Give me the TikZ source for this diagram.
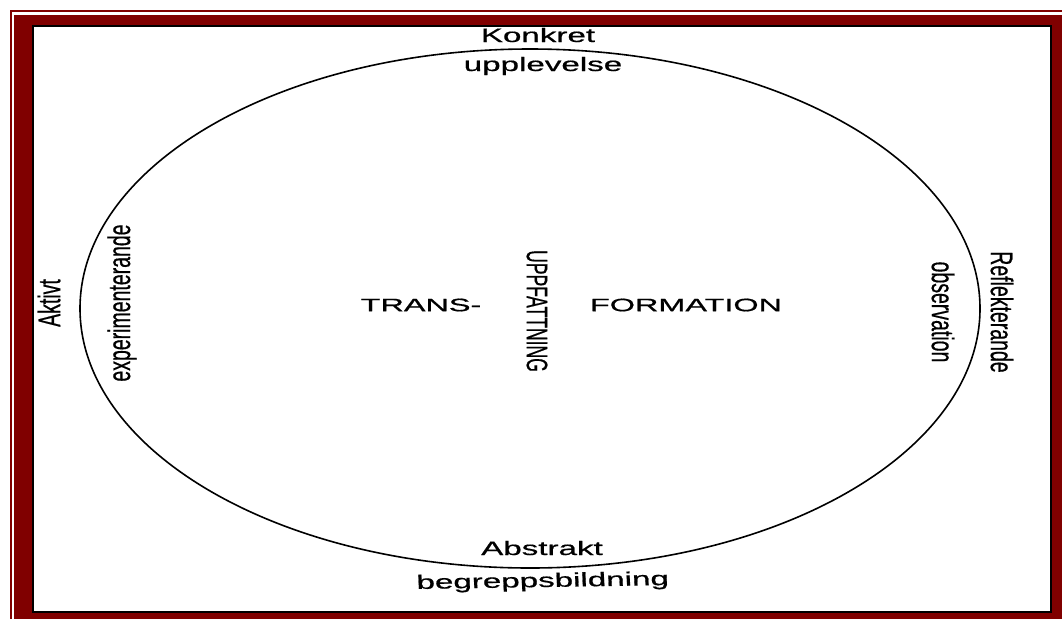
\documentclass[tikz,border=0pt]{standalone}
\usepackage{fontspec}
\setmainfont{Liberation Sans}[FakeBold=0.6]
\usetikzlibrary{shapes.geometric}
\definecolor{framered}{RGB}{128,0,0}

\begin{document}
\begin{tikzpicture}[
        x=1pt, y=-1pt,
        word/.style={font=\fontsize{19.5}{19.5}\selectfont, xscale=1.7, inner sep=0pt},
        upword/.style={font=\fontsize{19.5}{19.5}\selectfont, xscale=1.6, rotate=90, inner sep=0pt},
        downword/.style={font=\fontsize{19.5}{19.5}\selectfont, xscale=1.6, rotate=-90, inner sep=0pt},
        bigword/.style={font=\fontsize{18}{18}\selectfont, xscale=1.8, inner sep=0pt}
    ]
        \useasboundingbox (0,0) rectangle (1062,619);

        % frame
        \fill[framered] (10,10) rectangle (1062,619);
        \fill[white] (11.5,11.5) rectangle (1062,619);
        \fill[framered] (14,15) rectangle (1062,619);
        \draw[line width=2pt, fill=white] (33,26) rectangle (1051,612);

        \node[ellipse, draw, line width=1.6pt, minimum width=900pt, minimum height=519pt, inner sep=0pt] (cycle) at (530,308.5) {};

        \node[word, anchor=base] (konkret) at (538,42) {Konkret};
        \node[word, anchor=base] (upplevelse) at (543,71) {upplevelse};
        \node[word, anchor=base] (abstrakt) at (542,555) {Abstrakt};
        \node[word, anchor=base, rotate=1.5] (begrepp) at (543,587) {begreppsbildning};

        \node[upword] (aktivt) at (49,303) {Aktivt};
        \node[upword] (experiment) at (122,303) {experimenterande};
        \node[downword] (reflekt) at (1002,312) {Reflekterande};
        \node[downword] (observ) at (943,312) {observation};

        \node[bigword] (trans) at (421,305) {TRANS-};
        \node[downword, font=\fontsize{18.5}{18.5}\selectfont, xscale=0.95] (uppfatt) at (537,311) {UPPFATTNING};
        \node[bigword] (form) at (686,305) {FORMATION};
    \end{tikzpicture}
\end{document}
